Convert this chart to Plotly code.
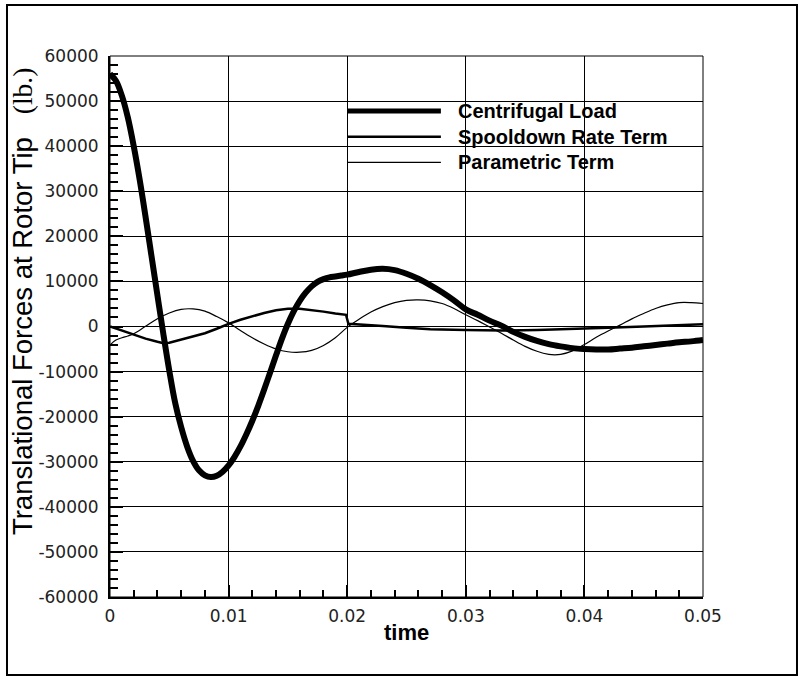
import plotly.graph_objects as go

# time samples (s) and force components (lb.)
t_centrifugal = [0.0, 0.0005, 0.001, 0.0015, 0.002, 0.0025, 0.003, 0.0035, 0.004, 0.0045,
                 0.005, 0.0055, 0.006, 0.0065, 0.007, 0.0075, 0.008, 0.0085, 0.009, 0.0095,
                 0.010, 0.0105, 0.011, 0.0115, 0.012, 0.0125, 0.013, 0.0135, 0.014, 0.0145,
                 0.015, 0.0155, 0.016, 0.0165, 0.017, 0.0175, 0.018, 0.0185, 0.019, 0.0195,
                 0.020, 0.021, 0.022, 0.023, 0.024, 0.025, 0.026, 0.027, 0.028, 0.029,
                 0.030, 0.031, 0.032, 0.033, 0.034, 0.035, 0.036, 0.037, 0.038, 0.039,
                 0.040, 0.041, 0.042, 0.043, 0.044, 0.045, 0.046, 0.047, 0.048, 0.049, 0.050]
centrifugal_load = [56000, 54500, 51200, 46400, 40000, 32600, 24300, 15600, 6900, -1700,
                    -9800, -17000, -22300, -26600, -29800, -31900, -33000, -33400, -33100, -32200,
                    -30800, -28900, -26600, -23900, -20900, -17600, -14000, -10200, -6400, -2700,
                    600, 3400, 5700, 7500, 8900, 9900, 10500, 10900, 11100, 11300,
                    11500, 12100, 12600, 12800, 12500, 11700, 10600, 9200, 7600, 5800,
                    3800, 2600, 1300, 200, -1200, -2300, -3200, -3900, -4400, -4800,
                    -5000, -5100, -5100, -4900, -4700, -4400, -4100, -3800, -3500, -3300, -3000]

t_spooldown = [0.0, 0.001, 0.002, 0.003, 0.004, 0.0045, 0.005, 0.006, 0.007, 0.008, 0.009,
               0.010, 0.011, 0.012, 0.013, 0.014, 0.015, 0.016, 0.017, 0.018, 0.019, 0.0199,
               0.0201, 0.021, 0.022, 0.023, 0.025, 0.027, 0.030, 0.033, 0.036, 0.039,
               0.042, 0.045, 0.048, 0.050]
spooldown_rate = [0, -900, -1800, -2700, -3400, -3700, -3600, -2900, -2300, -1500, -500,
                  600, 1500, 2300, 3000, 3600, 3950, 3950, 3700, 3300, 2900, 2600,
                  600, 400, 200, 100, -300, -600, -800, -900, -800, -600,
                  -300, 0, 300, 500]

t_parametric = [0.0, 0.0005, 0.001, 0.0015, 0.002, 0.003, 0.004, 0.005, 0.006, 0.007,
                0.008, 0.009, 0.010, 0.011, 0.012, 0.013, 0.014, 0.015, 0.016, 0.017,
                0.018, 0.019, 0.020, 0.021, 0.022, 0.023, 0.024, 0.025, 0.026, 0.027,
                0.028, 0.029, 0.030, 0.031, 0.032, 0.033, 0.034, 0.035, 0.036, 0.037,
                0.0375, 0.038, 0.039, 0.040, 0.041, 0.042, 0.043, 0.044, 0.045, 0.046,
                0.047, 0.048, 0.049, 0.050]
parametric_term = [-4100, -3000, -2500, -2100, -1600, 50, 1700, 3000, 3800, 3900,
                   3400, 2200, 800, -900, -2500, -3900, -5000, -5600, -5700, -5300,
                   -4200, -2500, -200, 1600, 3200, 4400, 5300, 5800, 5900, 5700,
                   5100, 4000, 2600, 1300, -100, -1500, -3000, -4400, -5500, -6200,
                   -6300, -6200, -5400, -4000, -2400, -1000, 300, 1700, 2900, 4000,
                   4800, 5300, 5300, 5100]

series_names = ["Centrifugal Load", "Spooldown Rate Term", "Parametric Term"]
x_ticks = [0, 0.01, 0.02, 0.03, 0.04, 0.05]
x_tick_text = ["0", "0.01", "0.02", "0.03", "0.04", "0.05"]
y_ticks = [60000, 50000, 40000, 30000, 20000, 10000, 0, -10000, -20000, -30000, -40000, -50000, -60000]
y_tick_text = [str(v) for v in y_ticks]

widths = [6, 2.5, 1.2]
shapes_of_lines = ["spline", "linear", "spline"]

fig = go.Figure()
for xs, ys, name, w, sh in zip([t_centrifugal, t_spooldown, t_parametric],
                               [centrifugal_load, spooldown_rate, parametric_term],
                               series_names, widths, shapes_of_lines):
    fig.add_trace(go.Scatter(x=xs, y=ys, mode="lines", name=name,
                             line=dict(color="black", width=w, shape=sh, smoothing=1.0),
                             showlegend=False))

tick_font = dict(family="DejaVu Sans", size=17, color="#222")
fig.update_xaxes(range=[0, 0.05], tickvals=x_ticks, ticktext=x_tick_text,
                 showgrid=True, gridcolor="black", gridwidth=1,
                 showline=True, linecolor="black", linewidth=2, zeroline=False,
                 ticks="inside", ticklen=12, tickwidth=2, tickcolor="black",
                 minor=dict(dtick=0.002, ticks="inside", ticklen=7, tickwidth=1.5,
                            tickcolor="black", showgrid=False),
                 tickfont=tick_font, ticklabelstandoff=3)
fig.update_yaxes(range=[-60000, 60000], tickvals=y_ticks, ticktext=y_tick_text,
                 showgrid=True, gridcolor="black", gridwidth=1,
                 showline=True, linecolor="black", linewidth=2, zeroline=False,
                 ticks="inside", ticklen=13, tickwidth=2, tickcolor="black",
                 minor=dict(dtick=2000, ticks="inside", ticklen=8, tickwidth=1.5,
                            tickcolor="black", showgrid=False),
                 tickfont=tick_font, ticklabelstandoff=6)

# plot-area outline and outer frame
fig.add_shape(type="rect", xref="paper", yref="paper", x0=0, x1=1, y0=0, y1=1,
              line=dict(color="black", width=1))
fig.add_shape(type="rect", xref="paper", yref="paper",
              x0=-0.1737, x1=1.1585, y0=-0.1442, y1=1.0943,
              line=dict(color="black", width=2))

# legend drawn inside the plot
legend_y = [47800, 42100, 36400]
for name, w, yv in zip(series_names, widths, legend_y):
    fig.add_shape(type="line", xref="x", yref="y", x0=0.02, x1=0.0279, y0=yv, y1=yv,
                  line=dict(color="black", width=min(w, 5)))
    fig.add_annotation(x=0.0292, y=yv, xref="x", yref="y", text=name, showarrow=False,
                       xanchor="left", yanchor="middle",
                       font=dict(family="Liberation Sans", size=20, color="black", weight="bold"))

# axis titles
fig.add_annotation(x=0.5, y=-0.0647, xref="paper", yref="paper", text="<b>time</b>",
                   showarrow=False, xanchor="center", yanchor="middle",
                   font=dict(family="Liberation Sans", size=22, color="black"))
fig.add_annotation(x=-0.1484, y=0.547, xref="paper", yref="paper", textangle=-90,
                   text="Translational Forces at Rotor Tip\u00a0\u00a0\u00a0"
                        "<span style='font-family:Liberation Serif'>(lb.)</span>",
                   showarrow=False, xanchor="center", yanchor="middle",
                   font=dict(family="Liberation Sans", size=27.5, color="black"))

fig.update_layout(width=799, height=677, margin=dict(l=110, r=96, t=56, b=80),
                  paper_bgcolor="white", plot_bgcolor="white", showlegend=False)

fig.write_html("out.html")
